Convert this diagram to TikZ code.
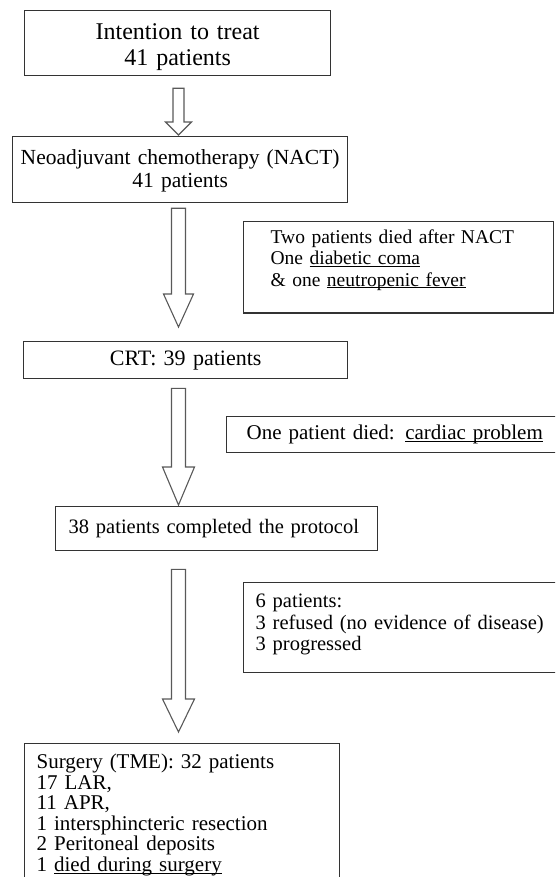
\documentclass[tikz,border=0pt]{standalone}
\usepackage{fontspec}
\setmainfont{Liberation Serif}
\usetikzlibrary{calc}

% underline at a fixed depth below the baseline
\newcommand{\undl}[1]{{\setbox0=\hbox{#1}\rlap{\rule[-2.2pt]{\wd0}{0.8pt}}\box0}}

\tikzset{
    stepbox/.style={draw=black!80, line width=1.3pt, fill=white, anchor=north west,
        inner ysep=0pt, font=\fontsize{20.5}{21.5}\selectfont},
    flowarrow/.style={draw=black!65, line width=1.1pt, fill=white, line join=miter},
}

\begin{document}
\begin{tikzpicture}[x=1pt,y=1pt]
    \useasboundingbox (0,0) rectangle (555,-877);
    \clip (0,0) rectangle (555,-877);

    \coordinate (stem) at (178.5,0);

    % main column
    \node[stepbox, inner xsep=0pt, text width=306pt, minimum height=65pt, align=center,
        font=\fontsize{24}{26}\selectfont] (itt) at (24,-10)
        {\rule{0pt}{24pt}Intention to treat\\41 patients};
    \node[stepbox, inner xsep=0pt, text width=335pt, minimum height=66pt, align=center,
        font=\fontsize{21.5}{23}\selectfont] (nact) at (12,-136)
        {\rule{0pt}{18pt}Neoadjuvant chemotherapy (NACT)\\41 patients};
    \node[stepbox, inner xsep=0pt, text width=324pt, minimum height=37pt, align=center,
        font=\fontsize{22}{23}\selectfont] (crt) at (23,-341)
        {CRT: 39 patients};
    \node[stepbox, inner xsep=13pt, text width=296pt, minimum height=44pt, align=left] (done) at (55,-506)
        {\mbox{38 patients completed the protocol}};
    \node[stepbox, inner xsep=12pt, inner ysep=10.5pt, text width=291pt, align=left,
        font=\fontsize{21}{20.5}\selectfont] (tme) at (24,-743)
        {Surgery (TME): 32 patients\\17 LAR,\\11 APR,\\1 intersphincteric resection\\2 Peritoneal deposits\\
         1 \undl{died during surgery}\rule[-20pt]{0pt}{20pt}};

    % side notes
    \node[stepbox, inner xsep=27pt, inner ysep=7.7pt, text width=256pt, align=left,
        font=\fontsize{19.5}{21.5}\selectfont] (nactdeath) at (243,-221)
        {Two patients died after NACT\\One \undl{diabetic coma}\\\& one \undl{neutropenic fever}\rule[-19.3pt]{0pt}{19.3pt}};
    \node[stepbox, inner xsep=20pt, text width=299pt, minimum height=36pt, align=left,
        font=\fontsize{21}{23}\selectfont] (crtdeath) at (226,-416)
        {\mbox{One patient died: \undl{cardiac problem}}};
    \node[stepbox, inner xsep=12pt, text width=298pt, minimum height=90pt, align=left] (dropout) at (243,-582)
        {6 patients:\\\mbox{3 refused (no evidence of disease)}\\3 progressed\rule[-10.6pt]{0pt}{10.6pt}};

    % block arrows: from/to/top gap/bottom gap/head length/half shaft/half head
    \foreach \from/\to/\gapa/\gapb/\headlen/\shaft/\head in
        {itt/nact/12/1/13/5.5/13, nact/crt/5/14/33/7/15, crt/done/9/1/38/7/16, done/tme/18/11/33/7/16}
    {
        \draw[flowarrow] let \p1=($(\from.south -| stem)+(0,-\gapa)$), \p2=($(\to.north -| stem)+(0,\gapb)$) in
            (\x1-\shaft pt,\y1) -- (\x1+\shaft pt,\y1) -- (\x1+\shaft pt,\y2+\headlen pt)
            -- (\x1+\head pt,\y2+\headlen pt) -- (\x1,\y2) -- (\x1-\head pt,\y2+\headlen pt)
            -- (\x1-\shaft pt,\y2+\headlen pt) -- cycle;
    }

\end{tikzpicture}
\end{document}
